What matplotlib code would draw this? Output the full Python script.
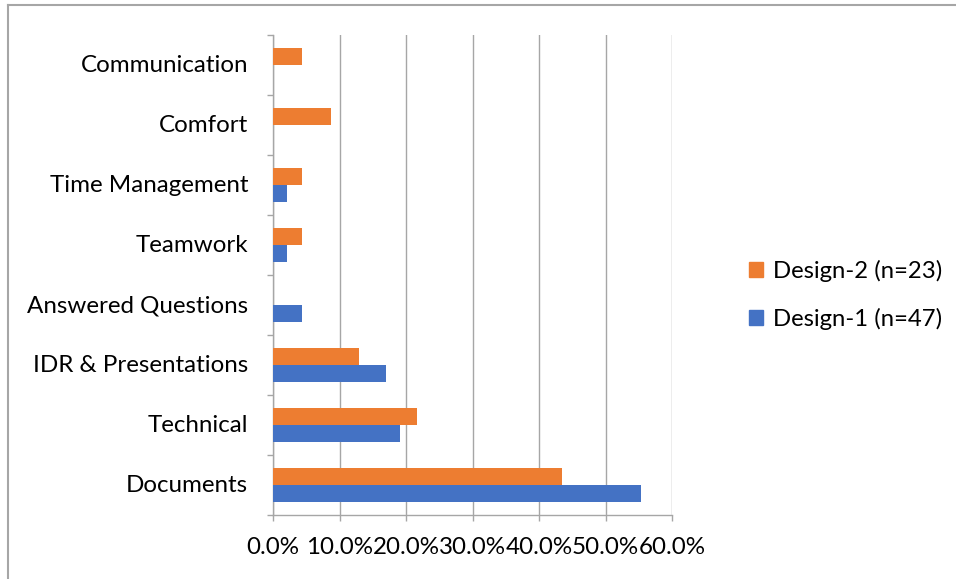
import matplotlib
matplotlib.use("Agg")
import matplotlib.pyplot as plt
from matplotlib.patches import Patch
from matplotlib.ticker import PercentFormatter, FixedLocator
from matplotlib.transforms import ScaledTranslation
import numpy as np

plt.rcParams['font.family'] = ['Lato', 'DejaVu Sans']

categories = ['Documents', 'Technical', 'IDR & Presentations', 'Answered Questions',
              'Teamwork', 'Time Management', 'Comfort', 'Communication']
design1 = [55.3, 19.1, 17.0, 4.3, 2.1, 2.1, 0.0, 0.0]   # n=47
design2 = [43.5, 21.7, 13.0, 0.0, 4.3, 4.3, 8.7, 4.3]   # n=23
series_names = ['Design-1 (n=47)', 'Design-2 (n=23)']
xticks = [0, 10, 20, 30, 40, 50, 60]

blue = '#4472C4'
orange = '#ED7D31'
grey = '#A6A6A6'
fs = 17.4
legend_fs = 17.2

fig = plt.figure(figsize=(9.56, 5.79), dpi=100)
ax = fig.add_axes([273 / 956, 1 - 515 / 579, 399 / 956, 480 / 579])

y = np.arange(len(categories))
h = 0.283
ax.barh(y - h / 2, design1, height=h, color=blue, zorder=3)
ax.barh(y + h / 2, design2, height=h, color=orange, zorder=3)

ax.set_xlim(0, 60)
ax.set_ylim(-0.5, len(categories) - 0.5)
ax.xaxis.set_major_locator(FixedLocator(xticks))
ax.xaxis.set_major_formatter(PercentFormatter(100, decimals=1))
ax.grid(axis='x', color=grey, linewidth=1.0, zorder=0)

ax.set_yticks(y)
ax.set_yticklabels(categories)
ax.set_yticks(np.arange(-0.5, len(categories), 1.0), minor=True)

for s in ['top', 'right']:
    ax.spines[s].set_visible(False)
for s in ['left', 'bottom']:
    ax.spines[s].set_color(grey)
    ax.spines[s].set_linewidth(1.0)

ax.tick_params(axis='y', which='major', length=0, pad=18, labelsize=fs, labelcolor='black')
ax.tick_params(axis='y', which='minor', length=4, width=1.0, color=grey)
ax.tick_params(axis='x', which='major', length=4, width=1.0, color=grey,
               pad=12, labelsize=fs, labelcolor='black')

# nudge category labels up a little
shift = ScaledTranslation(0, 1.5 / 100, fig.dpi_scale_trans)
for lab in ax.get_yticklabels():
    lab.set_transform(lab.get_transform() + shift)

handles = [Patch(color=orange), Patch(color=blue)]
fig.legend(handles, [series_names[1], series_names[0]], loc='center left',
           bbox_to_anchor=(737 / 956, 1 - 295 / 579), frameon=False,
           fontsize=legend_fs, handlelength=0.6, handleheight=0.6,
           handletextpad=0.4, labelspacing=1.1, borderpad=0)

# thin frame along the top and left edges
fig.add_artist(plt.Line2D([8 / 956, 8 / 956], [0, 1 - 5 / 579], color=grey, linewidth=1.5))
fig.add_artist(plt.Line2D([8 / 956, 1], [1 - 5 / 579, 1 - 5 / 579], color=grey, linewidth=1.5))

fig.savefig('out.png', dpi=100)
